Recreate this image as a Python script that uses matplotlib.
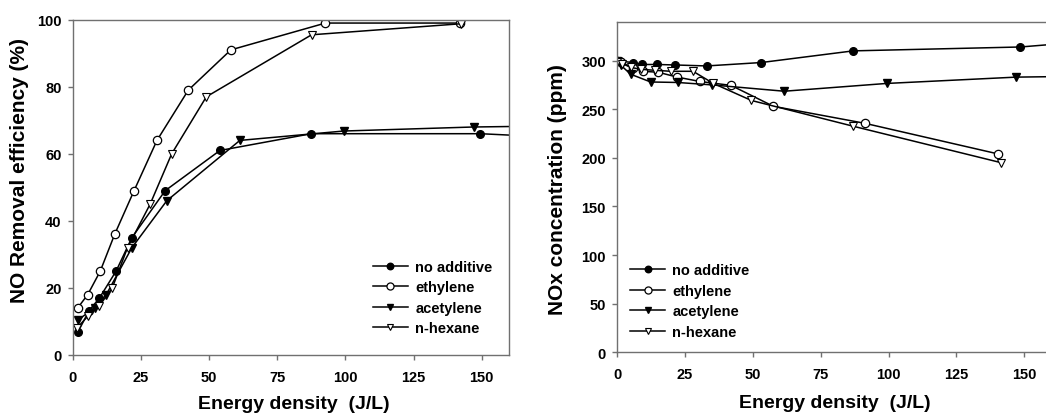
import matplotlib
matplotlib.use("Agg")
import matplotlib.pyplot as plt

plt.rcParams['font.family'] = ['Liberation Sans', 'DejaVu Sans']
plt.rcParams['font.weight'] = 'bold'

# ---------- Left panel: NO removal efficiency (%) ----------
L_none_x = [2.0, 6.0, 9.8, 15.9, 21.7, 33.9, 54.0, 87.5, 149.5, 175.0]
L_none_y = [7.0, 13.2, 17.0, 25.0, 35.0, 49.0, 61.0, 66.0, 66.0, 65.0]
L_eth_x = [1.8, 5.5, 10.1, 15.4, 22.5, 30.9, 42.4, 58.0, 92.7, 141.9]
L_eth_y = [14.0, 18.0, 25.0, 36.0, 49.0, 64.0, 79.0, 91.0, 99.0, 99.0]
L_ace_x = [2.0, 8.0, 12.3, 21.7, 34.5, 61.3, 99.4, 147.0, 175.0]
L_ace_y = [10.5, 14.0, 18.0, 32.0, 46.0, 64.0, 66.8, 68.0, 68.3]
L_hex_x = [1.5, 5.7, 9.8, 14.5, 20.1, 28.4, 36.3, 49.0, 87.6, 142.5]
L_hex_y = [8.0, 11.7, 14.7, 20.0, 32.0, 45.0, 60.0, 77.0, 95.5, 98.8]

# ---------- Right panel: NOx concentration (ppm) ----------
R_none_x = [0.0, 1.1, 5.8, 9.3, 14.9, 21.4, 33.0, 53.1, 87.0, 148.6, 175.0]
R_none_y = [300, 299.5, 298, 296, 296, 295.5, 294.5, 298, 310, 314, 320]
R_eth_x = [0.0, 1.4, 6.0, 9.7, 15.2, 22.2, 30.6, 42.0, 57.6, 91.3, 140.4]
R_eth_y = [300, 298.7, 292, 289, 288, 283, 278.5, 274.5, 253, 235.5, 204]
R_ace_x = [0.0, 1.5, 5.0, 12.4, 22.3, 35.0, 61.6, 99.3, 147.0, 175.0]
R_ace_y = [300, 295, 286, 278, 277.5, 275, 268.5, 276.5, 283, 284]
R_hex_x = [0.0, 2.0, 5.0, 9.0, 14.0, 20.0, 28.0, 35.5, 49.5, 87.0, 141.5]
R_hex_y = [299, 297, 293, 291, 290, 289, 289, 276.5, 259, 232.5, 195]

labels = ['no additive', 'ethylene', 'acetylene', 'n-hexane']
xticks = [0, 25, 50, 75, 100, 125, 150]

fig = plt.figure(figsize=(10.46, 4.14), dpi=100)
axL = fig.add_axes([72.7/1046, 58/414, 436.3/1046, 335.3/414])
axR = fig.add_axes([617/1046, 60.7/414, 434.4/1046, 330.6/414])

styles = [
    dict(marker='o', mfc='black', mec='black', ms=5.5),
    dict(marker='o', mfc='white', mec='black', ms=6, mew=0.9),
    dict(marker='v', mfc='black', mec='black', ms=5.5),
    dict(marker='v', mfc='white', mec='black', ms=5.5, mew=0.8),
]

def draw(ax, series):
    for (x, y), st, lab in zip(series, styles, labels):
        ax.plot(x, y, color='black', lw=1.1, label=lab, **st)
    for s in ax.spines.values():
        s.set_color('#707070')
        s.set_linewidth(1.0)
    ax.tick_params(direction='out', length=3.5, width=1, color='#707070',
                   labelsize=10.5)
    ax.tick_params(axis='x', pad=7)
    ax.tick_params(axis='y', pad=4.5)
    for t in ax.get_xticklabels() + ax.get_yticklabels():
        t.set_fontweight('bold')
    ax.set_xticks(xticks)

draw(axL, [(L_none_x, L_none_y), (L_eth_x, L_eth_y), (L_ace_x, L_ace_y), (L_hex_x, L_hex_y)])
axL.set_xlim(0, 160)
axL.set_ylim(0, 100)
axL.set_yticks([0, 20, 40, 60, 80, 100])
axL.set_xlabel('Energy density  (J/L)', fontsize=14, fontweight='bold')
axL.set_ylabel('NO Removal efficiency (%)', fontsize=15, fontweight='bold')
axL.xaxis.set_label_coords(0.506, -0.118)
axL.yaxis.set_label_coords(-0.1, 0.552)
axL.legend(loc='center left', bbox_to_anchor=(0.688, 0.1715), frameon=False,
           handlelength=2.4, handletextpad=0.5, labelspacing=0.45, markerscale=0.85,
           borderpad=0, borderaxespad=0, prop=dict(weight='bold', size=10.5))

draw(axR, [(R_none_x, R_none_y), (R_eth_x, R_eth_y), (R_ace_x, R_ace_y), (R_hex_x, R_hex_y)])
axR.set_xlim(0, 160)
axR.set_ylim(0, 340)
axR.set_yticks([0, 50, 100, 150, 200, 250, 300])
axR.set_xlabel('Energy density  (J/L)', fontsize=14, fontweight='bold')
axR.set_ylabel('NOx concentration (ppm)', fontsize=15, fontweight='bold')
axR.xaxis.set_label_coords(0.502, -0.125)
axR.yaxis.set_label_coords(-0.115, 0.494)
axR.legend(loc='center left', bbox_to_anchor=(0.030, 0.155), frameon=False,
           handlelength=2.4, handletextpad=0.5, labelspacing=0.45, markerscale=0.85,
           borderpad=0, borderaxespad=0, prop=dict(weight='bold', size=10.5))

fig.savefig('out.png', dpi=100)
